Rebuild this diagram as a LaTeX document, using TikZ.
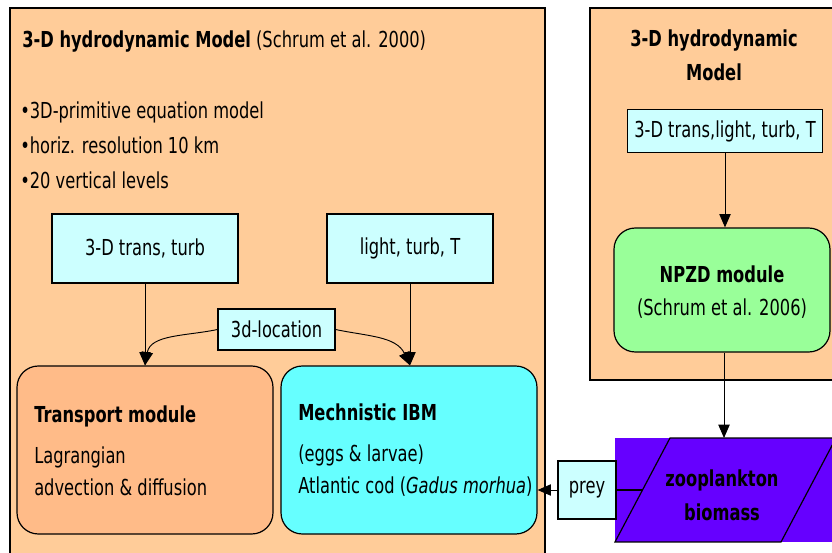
\documentclass[tikz,border=0pt]{standalone}
\usepackage{fontspec}
\setmainfont{DejaVu Sans}[FakeStretch=0.74]
\usetikzlibrary{arrows.meta}

\definecolor{peach}{HTML}{FFCC99}
\definecolor{palecyan}{HTML}{CCFFFF}
\definecolor{salmon}{HTML}{FFBB88}
\definecolor{aqua}{HTML}{66FFFF}
\definecolor{mint}{HTML}{99FF99}
\definecolor{violet}{HTML}{6600FF}

\tikzset{
  txt/.style={font=\fontsize{16.5}{25.5}\selectfont},
  line/.style={txt, anchor=base west, inner sep=0pt},
  databox/.style={txt, draw=black, line width=0.9pt, fill=palecyan, inner sep=0pt},
  modbox/.style={draw=black, line width=0.9pt, rounded corners=16pt, inner sep=0pt},
  feed/.style={-{Triangle[length=10pt,width=8.5pt]}, line width=0.7pt},
}

\begin{document}
\begin{tikzpicture}[x=0.75pt,y=-0.75pt]
  \clip (0,0) rectangle (832,553);
  \fill[white] (0,0) rectangle (832,553);

  % left hydrodynamic model frame
  \draw[fill=peach, line width=1pt] (10,8) rectangle (545,570);
  \node[line] (title) at (22,47)
    {\textbf{3-D hydrodynamic Model} (Schrum et al. 2000)};
  \node[line] (fact1) at (20,118) {•3D-primitive equation model};
  \node[line] (fact2) at (20,153) {•horiz. resolution 10 km};
  \node[line] (fact3) at (20,188) {•20 vertical levels};

  \node[databox, minimum width=186*0.75pt, minimum height=69*0.75pt] (trans) at (145,248.5) {3-D trans, turb};
  \node[databox, minimum width=166*0.75pt, minimum height=69*0.75pt] (light) at (410,248.5) {light, turb, T};
  \node[databox, minimum width=117*0.75pt, minimum height=41*0.75pt] (loc) at (276.5,329.5) {3d-location};

  \node[modbox, fill=salmon, minimum width=256*0.75pt, minimum height=168*0.75pt] (transport) at (145,450) {};
  \node[line] (tr1) at (34,422) {\textbf{Transport module}};
  \node[line] (tr2) at (34,463) {Lagrangian};
  \node[line] (tr3) at (34,495) {advection \& diffusion};

  \node[modbox, fill=aqua, minimum width=256*0.75pt, minimum height=168*0.75pt] (ibm) at (409,450) {};
  \node[line] (ibm1) at (298,420) {\textbf{Mechnistic IBM}};
  \node[line] (ibm2) at (298,461) {(eggs \& larvae)};
  \node[line] (ibm3) at (298,493) {Atlantic cod (\textit{Gadus morhua})};

  \draw[feed] (trans.south) -- (transport.north);
  \draw[feed] (light.south) -- (light.south |- ibm.north);
  \draw[feed] (loc.west) to[out=192, in=80] (transport.north);
  \draw[feed] (loc.east) to[out=-12, in=115] (light.south |- ibm.north);

  % right hydrodynamic model frame
  \draw[fill=peach, line width=1.2pt] (590,8) rectangle (850,380);
  \node[txt, align=center, font=\fontsize{16.5}{25.5}\selectfont\bfseries] (rtitle) at (714,55)
    {3-D hydrodynamic\\ Model};
  \node[databox, minimum width=195*0.75pt, minimum height=43*0.75pt] (rtrans) at (725,131) {3-D trans,light, turb, T};
  \node[modbox, fill=mint, minimum width=216*0.75pt, minimum height=124*0.75pt] (npzd) at (722,290) {};
  \node[txt, align=center] (npzdtext) at (722,292)
    {\textbf{NPZD module}\\[-0.5pt] (Schrum et al. 2006)};
  \draw[feed] (rtrans.south) -- (rtrans.south |- npzd.north);

  % zooplankton forcing
  \fill[violet] (615,438) rectangle (832,542);
  \draw[line width=0.9pt] (615,542) -- (670,438) -- (836,438) -- (781,542) -- cycle;
  \node[txt, align=center, font=\fontsize{16.5}{25.5}\selectfont\bfseries] (zoo) at (722,495)
    {zooplankton\\ biomass};
  \coordinate (zootop) at (724,438);
  \coordinate (zooleft) at (642.5,490);
  \draw[feed] (npzd.south -| zootop) -- (zootop);

  \node[databox, minimum width=58*0.75pt, minimum height=58*0.75pt] (prey) at (587,490) {prey};
  \draw[line width=0.9pt] (zooleft) -- (prey.east);
  \draw[feed] (prey.west) -- (prey.west -| ibm.east);
\end{tikzpicture}
\end{document}
